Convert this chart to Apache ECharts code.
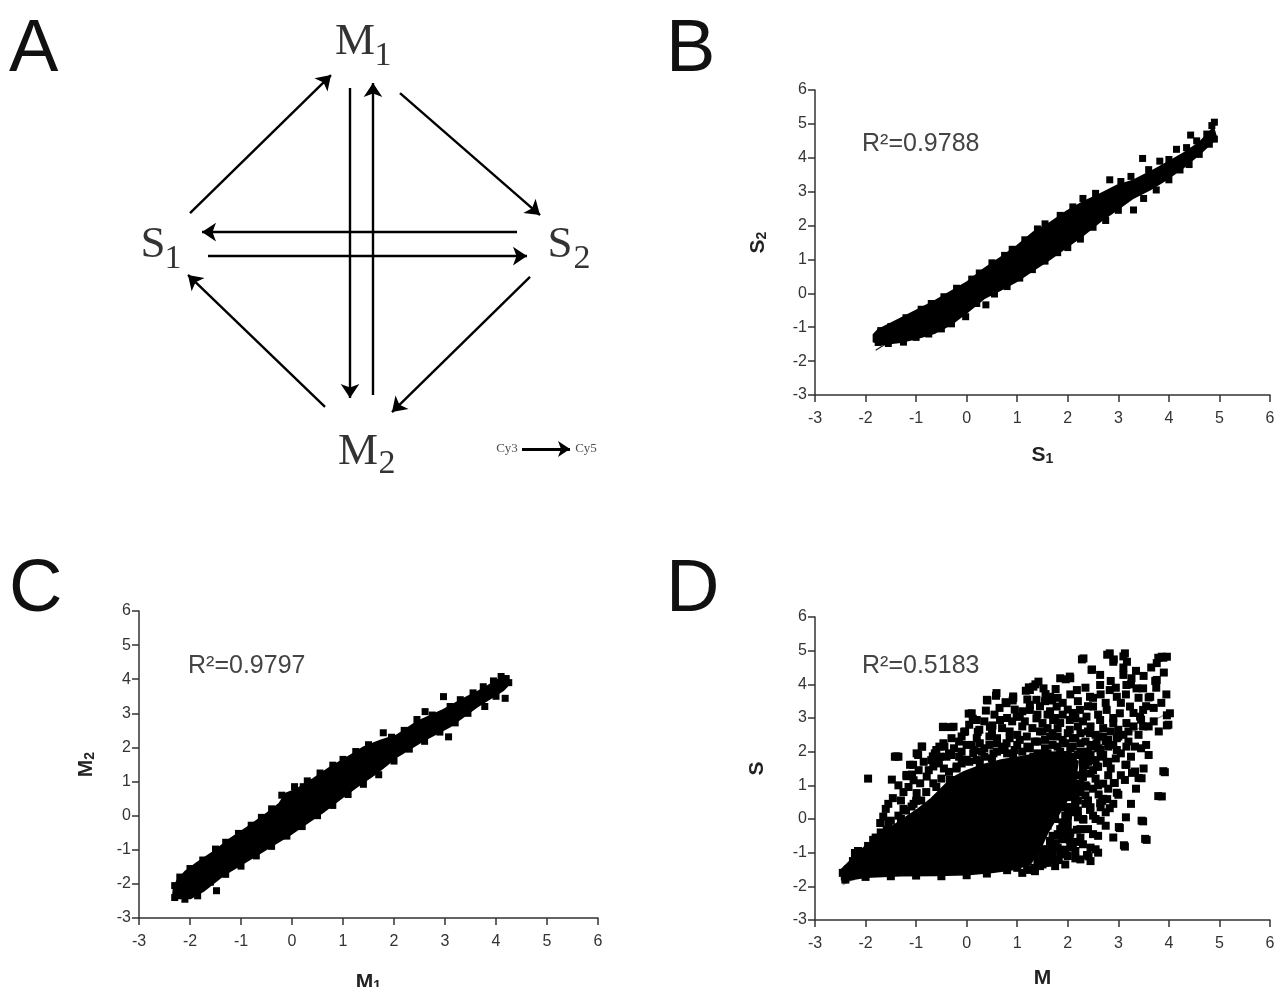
<!DOCTYPE html>
<html><head><meta charset="utf-8">
<script src="https://cdn.jsdelivr.net/npm/echarts@6/dist/echarts.min.js"></script>
<style>html,body{margin:0;padding:0;background:#fff}#c{width:1282px;height:987px}</style>
</head><body><div id="c"></div>
<script>
// ---------- DATA ----------
const axisMin = -3, axisMax = 6, axisStep = 1;
const panelLetters = ['A', 'B', 'C', 'D'];
const rSquared = ['0.9788', '0.9797', '0.5183'];

// Panel A diagram (abstract diagram units, diamond layout)
const diagramNodes = [
  { name: 'M', sub: '1', pos: [-0.05, 0.99] },
  { name: 'S', sub: '1', pos: [-1.06, 0.0] },
  { name: 'S', sub: '2', pos: [0.975, 0.0] },
  { name: 'M', sub: '2', pos: [-0.035, -1.01] }
];
const diagramArrows = [
  { from: [-0.875, 0.156], to: [-0.17, 0.829] },   // S1 -> M1
  { from: [0.175, 0.741], to: [0.875, 0.146] },    // M1 -> S2
  { from: [-0.075, 0.766], to: [-0.075, -0.746] }, // M1 -> M2
  { from: [0.04, -0.732], to: [0.04, 0.79] },      // M2 -> M1
  { from: [0.76, 0.063], to: [-0.815, 0.063] },    // S2 -> S1
  { from: [-0.785, -0.054], to: [0.81, -0.054] },  // S1 -> S2
  { from: [0.825, -0.156], to: [0.135, -0.815] },  // S2 -> M2
  { from: [-0.2, -0.79], to: [-0.885, -0.146] }    // M2 -> S1
];
const legendArrow = { from: [0.785, -0.995], to: [1.025, -0.995] };
const legendLabels = [ { text: 'Cy3', pos: [0.71, -0.995] }, { text: 'Cy5', pos: [1.105, -0.995] } ];

// Panel B: S1 vs S2 — outline of the solid point band, edge/outlier points, fit line
const bBandTop = [[-1.84,-1.22],[-1.75,-1.08],[-1.3,-0.74],[-0.97,-0.49],[-0.64,-0.24],[-0.31,0.05],[0.02,0.34],[0.34,0.72],[0.66,1.04],[0.99,1.39],[1.32,1.8],[1.65,2.08],[1.98,2.42],[2.31,2.7],[2.64,2.93],[2.97,3.18],[3.3,3.33],[3.63,3.58],[3.96,3.85],[4.29,4.13],[4.61,4.45],[4.88,4.88]];
const bBandBottom = [[4.94,4.58],[4.61,4.12],[4.29,3.72],[3.96,3.37],[3.63,3.07],[3.3,2.82],[2.97,2.47],[2.64,2.12],[2.31,1.72],[1.98,1.37],[1.66,1.02],[1.33,0.7],[1.0,0.37],[0.67,0.1],[0.34,-0.15],[0.02,-0.54],[-0.31,-0.92],[-0.64,-1.17],[-0.97,-1.32],[-1.3,-1.44],[-1.69,-1.5],[-1.84,-1.42]];
const bPoints = [[-1.7,-1.1],[-1.5,-0.98],[-1.2,-0.72],[-0.9,-0.47],[-0.7,-0.3],[-0.45,-0.1],[-0.2,0.15],[0.1,0.42],[0.25,0.6],[0.5,0.9],[0.75,1.12],[0.9,1.3],[1.15,1.58],[1.4,1.9],[1.55,2.05],[1.85,2.3],[2.1,2.55],[2.3,2.8],[2.55,2.95],[2.83,3.35],[3.05,3.3],[3.25,3.45],[3.48,3.98],[3.6,3.65],[3.82,3.9],[4.0,3.95],[4.15,4.25],[4.35,4.3],[4.43,4.67],[4.55,4.5],[4.75,4.7],[4.85,4.95],[4.9,5.05],
  [-1.75,-1.45],[-1.55,-1.48],[-1.25,-1.44],[-1.0,-1.3],[-0.75,-1.2],[-0.5,-1.05],[-0.3,-0.9],[-0.02,-0.69],[0.2,-0.3],[0.38,-0.34],[0.55,-0.02],[0.8,0.2],[1.05,0.45],[1.3,0.7],[1.55,0.95],[1.8,1.2],[2.0,1.35],[2.25,1.6],[2.5,1.95],[2.75,2.15],[3.0,2.45],[3.3,2.46],[3.5,2.8],[3.75,3.05],[4.0,3.35],[4.22,3.64],[4.4,3.8],[4.6,4.1],[4.8,4.4],[4.9,4.55]];
const bFit = [[-1.8,-1.68],[4.9,4.56]];

// Panel C: M1 vs M2
const cBandTop = [[-2.32,-2.15],[-2.25,-1.9],[-2.09,-1.64],[-1.86,-1.38],[-1.53,-1.05],[-1.21,-0.68],[-0.88,-0.35],[-0.55,0.0],[-0.25,0.35],[-0.12,0.65],[0.1,0.78],[0.42,1.08],[0.75,1.42],[1.08,1.7],[1.4,2.0],[1.73,2.2],[2.05,2.35],[2.45,2.75],[2.97,3.1],[3.36,3.42],[3.75,3.72],[4.08,4.02],[4.22,4.05]];
const cBandBottom = [[4.25,3.85],[4.14,3.68],[3.62,3.19],[3.1,2.62],[2.57,2.2],[2.05,1.72],[1.66,1.25],[1.27,0.85],[0.95,0.5],[0.62,0.12],[0.29,-0.22],[-0.03,-0.55],[-0.36,-0.85],[-0.68,-1.14],[-1.01,-1.44],[-1.34,-1.74],[-1.73,-2.2],[-1.99,-2.42],[-2.25,-2.42],[-2.33,-2.3]];
const cPoints = [[-2.3,-2.05],[-2.2,-1.8],[-2.0,-1.55],[-1.75,-1.3],[-1.5,-0.98],[-1.3,-0.78],[-1.05,-0.52],[-0.8,-0.28],[-0.6,-0.05],[-0.4,0.2],[-0.2,0.6],[0.05,0.85],[0.22,0.85],[0.3,1.02],[0.55,1.25],[0.8,1.48],[1.0,1.65],[1.25,1.88],[1.5,2.08],[1.79,2.43],[1.95,2.3],[2.2,2.5],[2.45,2.82],[2.61,3.05],[2.75,2.95],[2.97,3.49],[3.1,3.2],[3.3,3.4],[3.55,3.6],[3.75,3.78],[3.95,3.95],[4.1,4.08],[4.2,4.02],
  [-2.3,-2.4],[-2.1,-2.45],[-1.85,-2.35],[-1.48,-2.2],[-1.6,-1.95],[-1.3,-1.72],[-1.0,-1.48],[-0.7,-1.18],[-0.4,-0.9],[-0.1,-0.6],[0.2,-0.32],[0.5,0.0],[0.8,0.3],[1.1,0.62],[1.4,0.92],[1.7,1.2],[2.0,1.6],[2.3,1.95],[2.6,2.18],[3.07,2.31],[2.9,2.45],[3.2,2.72],[3.45,3.0],[3.78,3.2],[4.0,3.5],[4.18,3.44],[4.25,3.9]];

// Panel D: M vs S
const dCore = [[-2.47,-1.8],[-2.47,-1.5],[-2.3,-1.25],[-2.15,-1.0],[-1.95,-0.75],[-1.7,-0.45],[-1.45,-0.2],[-1.2,0.05],[-0.95,0.3],[-0.7,0.6],[-0.5,0.9],[-0.3,1.2],[-0.05,1.4],[0.3,1.6],[0.7,1.75],[1.1,1.85],[1.45,1.95],[1.9,2.0],[2.2,1.7],[2.15,1.2],[2.0,0.6],[1.8,0.1],[1.6,-0.4],[1.45,-0.9],[1.25,-1.35],[0.9,-1.5],[0.5,-1.58],[0.0,-1.65],[-0.6,-1.67],[-1.3,-1.68],[-2.0,-1.72],[-2.3,-1.8]];
const dPoints = [
  [2.31,4.77],[2.83,4.92],[3.13,4.92],[2.90,4.67],[3.17,4.67],[3.86,4.82],[3.96,4.82],[3.76,4.63],[2.47,4.43],[2.64,4.28],[3.10,4.28],[3.26,4.18],[3.76,4.13],[1.85,4.18],[2.04,4.23],[1.42,4.08],[1.25,3.83],[1.52,3.88],[1.65,3.63],[2.18,3.83],[2.44,3.63],[2.64,3.98],[2.83,3.83],[2.97,3.63],[3.16,3.98],[3.36,3.88],[3.49,3.88],[3.63,3.63],[0.92,3.59],[1.25,3.39],[1.78,3.34],[2.24,3.24],[2.50,3.34],[2.77,3.24],[3.03,3.14],[3.23,3.34],[3.49,3.24],[4.02,3.14],[3.99,2.80],[3.43,3.04],[0.99,3.04],[1.38,2.99],[1.71,2.94],[2.04,2.94],[2.37,3.04],[2.64,2.94],[2.90,2.85],[3.16,2.85],[3.30,2.75],[3.49,2.75],[2.04,2.65],[2.44,2.55],[2.70,2.45],[2.97,2.40],[3.10,2.50],[3.33,2.15],[3.16,2.15],[2.97,2.05],[2.57,2.25],[2.77,1.66],[2.57,1.56],[3.16,1.61],[3.33,1.41],[3.46,1.21],[3.92,1.39],[3.13,1.16],[2.93,1.07],[2.37,0.96],[3.0,0.72],[3.86,0.67],[2.64,0.47],[2.83,0.32],[2.44,0.27],[2.31,-0.02],[2.18,-0.32],[3.03,-0.27],[3.49,-0.07],[3.56,-0.62],[3.13,-0.82],[2.04,-0.62],[1.91,-0.91],[2.41,-1.11],
  [-1.95,1.20],[-1.48,1.17],[-1.46,0.62],[-1.39,1.86],[-1.06,1.61],[-0.96,1.90],[-0.88,2.15],[-1.08,1.32],[-1.0,0.54],[-1.19,1.27],[-0.67,1.86],[-0.54,2.15],[-0.44,2.15],[-0.31,1.90],[-0.47,2.73],[-0.31,2.73],[-0.05,2.59],[0.04,3.13],[0.12,2.98],[0.22,2.59],[0.38,3.22],[0.41,3.52],[0.58,3.66],[0.51,2.78],[0.77,3.47],[0.91,3.52],[1.17,3.81],[1.23,3.91],[1.36,4.00],[1.56,3.71],[1.69,3.52],[1.76,3.86],[1.96,4.15],[2.05,4.18],[2.28,4.74],[2.48,4.44],[2.78,4.88],[2.91,4.74],[3.10,4.83],[3.79,4.79],[3.89,4.79],[3.73,4.10],[3.60,3.61],[3.96,3.08],[3.96,2.78],[3.89,1.42],[3.79,0.68],[3.01,-0.24],[3.11,-0.78],[3.46,-0.05],[3.53,-0.59],[3.14,1.61],[2.97,0.78],[2.91,1.07],[3.27,1.37],[3.40,1.22],[2.38,-1.07],[2.15,-1.17],[1.82,-1.22],[1.69,-1.22],[1.20,-1.51],[2.15,-0.68],[2.05,-0.78],[1.76,-0.73],[2.68,0.54],[2.78,0.59],[2.61,0.73],
  [-1.42,1.85],[-1.35,1.85],[-1.12,1.61],[-0.99,1.95],[-0.89,2.15],[-1.19,1.31],[-1.65,0.07],[-1.71,-0.12],[-1.58,-0.32],[-1.85,-0.62],[-2.21,-1.01],[-2.2,-1.16],[-1.09,0.37],[-0.99,0.77],[-0.92,1.06],[-0.79,1.26],[-0.66,1.56],[-0.53,1.85],[-0.63,1.95],[-0.46,2.25],[-0.40,1.85],[-0.46,2.74],[-0.26,2.74],[-0.66,1.06],[-0.33,1.16],[-0.20,1.56],[-0.03,2.60],[0.0,1.76],[0.13,1.95],[0.10,3.14],[0.20,2.94],[0.26,2.25],[0.40,3.54],[0.59,3.74],[0.46,2.74],[0.66,2.94],[0.79,3.44],[0.92,3.64],[1.05,3.04],[1.25,3.24],[1.32,3.93],[1.38,3.54],[1.19,2.45],[0.79,2.25],[0.53,1.95],[0.92,1.85],[1.32,1.85],[0.26,1.66],[0.66,1.56],[1.05,1.46],[1.32,1.26],
  [0.35,2.1],[0.6,2.4],[0.85,2.6],[1.0,2.2],[1.1,2.75],[1.45,2.6],[1.55,2.35],[1.25,2.1],[0.7,2.05],[0.45,2.45],[1.8,2.45],[2.1,3.15],[2.25,2.55],[1.9,3.1],[1.6,3.1],[0.2,2.4],[-0.15,2.3],[-0.1,2.0],[0.1,2.2],
  [1.4,2.3],[1.5,2.6],[1.55,2.1],[1.6,1.8],[1.65,2.45],[1.7,2.2],[1.75,1.6],[1.8,2.7],[1.85,2.0],[1.9,2.35],[1.95,1.75],[2.0,2.55],[2.05,2.1],[2.1,1.85],[2.15,2.4],[2.2,2.75],[2.25,2.0],[2.3,1.7],[2.35,2.3],[2.4,2.6],[2.45,1.9],[2.5,2.15],[2.55,1.75],[2.6,2.45],[2.65,2.05],[2.7,1.9],[2.75,2.3],[2.8,1.7],[2.85,2.6],[2.9,2.2],[3.0,2.45],[3.05,1.95],[3.2,2.3],[3.4,2.5],[3.55,2.2],[3.7,2.9],[3.8,2.6],
  [1.4,1.0],[1.45,0.6],[1.5,1.3],[1.55,0.8],[1.6,1.55],[1.65,0.4],[1.7,1.1],[1.75,0.7],[1.8,1.35],[1.85,0.5],[1.9,0.95],[1.95,1.25],[2.0,0.65],[2.05,1.45],[2.1,1.05],[2.15,0.4],[2.2,1.3],[2.25,0.8],[2.3,1.55],[2.35,1.0],[2.4,0.55],[2.45,1.35],[2.5,0.9],[2.55,1.2],[2.6,1.55],[2.7,1.05],[2.8,1.3],
  [1.4,0.1],[1.45,-0.4],[1.5,-0.9],[1.55,0.3],[1.6,-0.2],[1.65,-0.7],[1.7,-1.15],[1.75,0.0],[1.8,-0.45],[1.85,0.35],[1.9,-0.15],[1.95,-0.95],[2.0,0.15],[2.05,-0.4],[2.1,-0.85],[2.2,0.25],[2.25,-0.55],[2.3,0.0],[2.4,-0.3],[2.5,0.1],[2.6,-0.5],[2.65,0.35],[2.45,-0.85],[1.55,-1.3],[1.35,-1.1],[1.35,-0.6],[1.3,0.5],[1.3,1.4],
  [-2.45,-1.6],[-2.4,-1.8],[-2.3,-1.7],[-2.35,-1.5],[-2.25,-1.25],[-2.15,-0.95],[-2.05,-1.2],[-1.95,-0.8],[-1.8,-0.55],[-1.7,-0.4],[-1.55,-0.1],[-1.3,0.0],[-1.2,0.25],
  [-2.0,-1.72],[-1.5,-1.7],[-1.0,-1.68],[-0.5,-1.7],[0.0,-1.67],[0.4,-1.62],[0.8,-1.52],[1.2,-1.5],[1.0,-1.45],
  [-1.5,-0.05],[-1.35,0.1],[-1.25,0.3],[-1.05,0.45],[-0.9,0.55],[-0.8,0.8],[-0.6,0.95],[-0.5,1.2],[-0.35,1.4],[-0.2,1.5],[-0.1,1.65],[0.05,1.7],[0.2,1.75],[0.35,1.85],[0.5,1.8],[0.6,2.0],[0.8,1.95],[0.95,2.05],[1.1,2.0],[1.2,2.15],[1.4,1.95],[1.55,2.05],[1.7,1.85],[1.85,1.75],
  [2.0,1.6],[2.1,1.2],[2.05,0.85],[2.15,0.6],[2.1,0.2],[2.0,-0.05],[1.95,-0.4],[1.9,-0.6],[1.8,-0.85],[1.65,-1.05],[1.6,-1.3],[1.45,-1.4],[1.35,-1.55],[1.1,-1.6],
  [1.85,1.45],[1.9,1.2],[1.95,0.8],[1.9,0.55],[2.0,0.35],[1.95,0.1],[1.9,-0.25],[1.85,-0.5],[1.75,-0.75],[1.7,-0.95],[1.55,-1.15],[1.5,-1.35],[1.3,-1.5],[1.75,1.75],[1.6,1.95],[1.95,1.55],[2.05,1.05],[2.1,0.7],[2.0,-0.25],[1.85,-1.05],
  [2.3,1.9],[2.35,1.6],[2.3,1.35],[2.25,1.05],[2.2,0.85],[2.15,0.55],[2.05,0.35],[2.0,0.1],[1.9,-0.1],[1.85,-0.3],[1.7,-0.5],[1.65,-0.65],[1.6,-0.9],[1.5,-1.1],[1.4,-1.3],[1.35,-1.45],[2.1,2.15],[1.8,2.15],[2.45,2.2],
  [-1.6,0.3],[-1.55,0.45],[-1.3,0.55],[-1.25,0.8],[-1.35,1.0],[-1.15,0.95],[-1.05,1.15],[-0.95,1.45],[-0.85,1.7],[-0.75,1.45],[-0.7,1.75],[-0.6,2.05],[-0.55,1.65],[-0.45,1.5],[-0.35,1.95],[-0.3,2.4],[-0.25,2.1],[-0.15,1.85],[-0.1,2.45],[0.0,2.2],[0.05,2.8],[0.15,2.05],[0.25,2.65],[0.3,2.0],[0.35,2.9],[0.45,2.2],[0.5,2.6],[0.55,3.1],[0.6,2.25],[0.65,3.3],[0.7,2.7],[0.75,2.15],[0.8,3.0],[0.85,2.4],[0.9,2.9],[0.95,3.25],[1.0,2.5],[1.05,2.35],[1.1,3.2],[1.15,2.9],[1.2,3.55],[1.3,2.7],[1.35,2.3],[1.4,3.1],[1.45,3.35],[1.5,2.85],[1.55,3.5],[1.6,2.7],[1.65,3.2],[1.7,2.55],[1.75,3.0],[1.8,3.6],[1.85,2.85],[1.9,3.45],[1.95,2.25],[2.0,3.25],[2.05,3.7],[2.1,2.4],[2.15,3.0],[2.2,3.5],[2.25,2.25],[2.3,2.9],[2.35,3.9],[2.4,3.35],[2.45,2.75],[2.5,3.6],[2.55,2.5],[2.6,3.1],[2.65,3.7],[2.7,2.7],[2.75,3.45],[2.8,2.15],[2.85,4.1],[2.9,3.0],[2.95,3.9],[3.0,2.65],[3.05,3.45],[3.1,4.5],[3.15,3.7],[3.2,2.6],[3.25,4.0],[3.3,3.15],[3.35,4.4],[3.4,3.6],[3.45,2.95],[3.5,4.25],[3.55,3.35],[3.6,2.75],[3.65,4.5],[3.7,3.3],[3.75,3.9],[3.85,3.45],[3.9,4.35],[3.95,3.7],
  [2.0,1.9],[2.1,1.6],[2.2,1.9],[2.3,1.25],[2.35,0.7],[2.4,1.7],[2.45,0.35],[2.5,1.45],[2.55,0.0],[2.6,1.0],[2.65,1.85],[2.7,0.6],[2.75,-0.2],[2.8,0.9],[2.85,1.5],[2.9,0.45],[2.95,1.8],[2.2,0.05],[2.25,-0.3],[2.3,-0.75],[2.35,0.45],[2.5,-0.45],[2.55,-0.9],[2.65,-0.05],[2.75,0.2],[2.15,-0.95],[2.0,-1.1],[2.25,-1.2],[1.95,-1.35],[1.75,-1.4],[2.1,0.95],[2.2,0.55],[2.05,1.3],[2.4,2.0],[2.6,2.1],[2.8,2.35],[3.05,1.3],[3.25,1.85],[3.35,0.9],[3.5,1.5],[3.6,1.9],[3.45,2.1],[3.25,0.45],[3.15,0.05],[2.9,-0.55],[2.6,-1.0],[2.45,-1.25]
];
const dFit = [[-2.45,-1.95],[3.98,3.15]];

// ---------- CHART ----------
const chart = echarts.init(document.getElementById('c'), null, { renderer: 'canvas' });
const SANS = 'Liberation Sans';
const SERIF = 'Liberation Serif';
const gridBase = { containLabel: false, outerBoundsMode: 'none' };
const grids = [
  Object.assign({ left: 45, top: 9.25, width: 640, height: 471.5 }, gridBase),   // A (diagram)
  Object.assign({ left: 815, top: 90, width: 455, height: 305 }, gridBase),      // B
  Object.assign({ left: 139, top: 611, width: 459, height: 307 }, gridBase),     // C
  Object.assign({ left: 815, top: 617, width: 455, height: 303 }, gridBase)      // D
];
const subRich = {
  a: { fontSize: 21, fontWeight: 'bold', fontFamily: SANS, color: '#222', lineHeight: 21, verticalAlign: 'top' },
  b: { fontSize: 14, fontWeight: 'bold', fontFamily: SANS, color: '#222', lineHeight: 14, verticalAlign: 'bottom', padding: [11, 0, 0, 0] }
};
function valAxis(idx, name, gap, isY) {
  return {
    type: 'value', gridIndex: idx, min: axisMin, max: axisMax, interval: axisStep,
    name: name, nameLocation: 'middle', nameGap: gap, nameRotate: isY ? 90 : 0,
    nameTextStyle: { rich: subRich },
    axisLine: { show: true, onZero: false, lineStyle: { color: '#333', width: 1.5 } },
    axisTick: { show: true, length: 7, lineStyle: { color: '#333', width: 1.5 } },
    axisLabel: { color: '#333', fontSize: 16, fontFamily: SANS, margin: isY ? 8 : 16 },
    splitLine: { show: false }
  };
}
const xAxes = [
  { type: 'value', gridIndex: 0, min: -1.6, max: 1.6, show: false },
  valAxis(1, '{a|S}{b|1}', 50, false),
  valAxis(2, '{a|M}{b|1}', 54, false),
  valAxis(3, '{a|M}', 48, false)
];
const yAxes = [
  { type: 'value', gridIndex: 0, min: -1.15, max: 1.15, show: false },
  valAxis(1, '{a|S}{b|2}', 46, true),
  valAxis(2, '{a|M}{b|2}', 42, true),
  valAxis(3, '{a|S}', 47, true)
];
function bandSeries(idx, poly) {
  return {
    type: 'custom', xAxisIndex: idx, yAxisIndex: idx, silent: true, z: 2, clip: false,
    data: [poly[0]],
    renderItem: (params, api) => ({
      type: 'polygon',
      shape: { points: poly.map(p => api.coord(p)) },
      style: { fill: '#000', stroke: '#000', lineWidth: 2 }
    })
  };
}
function dotSeries(idx, pts, size) {
  return { type: 'scatter', xAxisIndex: idx, yAxisIndex: idx, data: pts, symbol: 'rect', symbolSize: size,
    itemStyle: { color: '#000', opacity: 1 }, silent: true, z: 3, animation: false };
}
function fitSeries(idx, pts, color, z) {
  return { type: 'line', xAxisIndex: idx, yAxisIndex: idx, data: pts, symbol: 'none', silent: true, z: z,
    lineStyle: { color: color, width: 1.2 }, animation: false };
}
// label styling for the diagram node names' subscripts (offsets in px)
const subOffsets = [[28, 14], [20, 14], [22, 14], [29, 12]];
const series = [
  {
    type: 'lines', coordinateSystem: 'cartesian2d', xAxisIndex: 0, yAxisIndex: 0, silent: true,
    symbol: ['none', 'arrow'], symbolSize: 14,
    lineStyle: { color: '#000', width: 2.4, opacity: 1, curveness: 0 },
    data: diagramArrows.map(a => ({ coords: [a.from, a.to] })), animation: false
  },
  {
    type: 'lines', coordinateSystem: 'cartesian2d', xAxisIndex: 0, yAxisIndex: 0, silent: true,
    symbol: ['none', 'arrow'], symbolSize: 12,
    lineStyle: { color: '#000', width: 3, opacity: 1 },
    data: [{ coords: [legendArrow.from, legendArrow.to] }], animation: false
  },
  {
    type: 'scatter', xAxisIndex: 0, yAxisIndex: 0, symbolSize: 0, silent: true,
    data: diagramNodes.map(n => n.pos),
    label: { show: true, position: 'inside', formatter: p => diagramNodes[p.dataIndex].name,
      fontFamily: SERIF, fontSize: 45, color: '#000' },
    animation: false
  },
  {
    type: 'scatter', xAxisIndex: 0, yAxisIndex: 0, symbolSize: 0, silent: true,
    data: diagramNodes.map((n, i) => ({ value: n.pos, label: { offset: subOffsets[i] } })),
    label: { show: true, position: 'inside', formatter: p => diagramNodes[p.dataIndex].sub,
      fontFamily: SERIF, fontSize: 34, color: '#000' },
    animation: false
  },
  {
    type: 'scatter', xAxisIndex: 0, yAxisIndex: 0, symbolSize: 0, silent: true,
    data: legendLabels.map(l => l.pos),
    label: { show: true, position: 'inside', formatter: p => legendLabels[p.dataIndex].text, fontFamily: SERIF, fontSize: 13, color: '#222' },
    animation: false
  },
  fitSeries(1, bFit, '#222', 1),
  bandSeries(1, bBandTop.concat(bBandBottom)),
  dotSeries(1, bPoints, 7),
  bandSeries(2, cBandTop.concat(cBandBottom)),
  dotSeries(2, cPoints, 7),
  fitSeries(3, dFit, '#8a8a8a', 1),
  bandSeries(3, dCore),
  dotSeries(3, dPoints, 8)
];
const letterPos = [[9, 14], [666, 14], [9, 554], [666, 554]];
const rPos = [[862, 132], [188, 654], [862, 654]];
const graphic = panelLetters.map((t, i) => ({
  type: 'text', left: letterPos[i][0], top: letterPos[i][1], silent: true,
  style: { text: t, fontSize: 74, fontFamily: SANS, fill: '#111' }
})).concat(rSquared.map((r, i) => ({
  type: 'text', left: rPos[i][0], top: rPos[i][1], silent: true,
  style: { text: 'R\u00B2=' + r, fontSize: 25, fontFamily: SANS, fill: '#444' }
})));
chart.setOption({
  backgroundColor: '#fff', animation: false,
  grid: grids, xAxis: xAxes, yAxis: yAxes, series: series, graphic: graphic
});
</script></body></html>
